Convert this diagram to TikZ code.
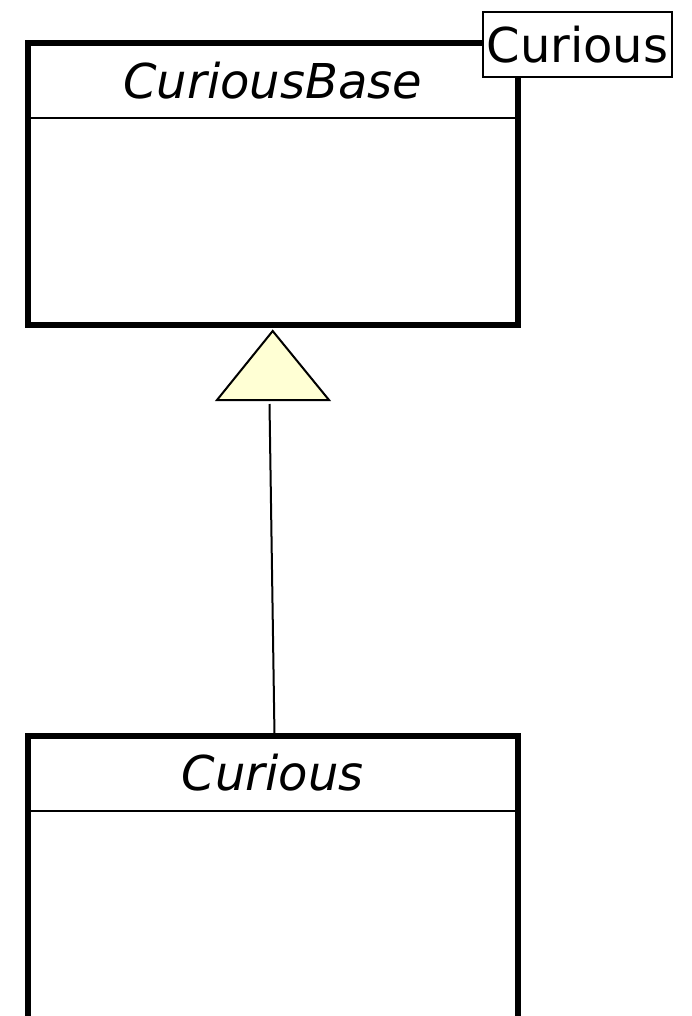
\documentclass[tikz,border=0pt]{standalone}
\usepackage{fontspec}
\setmainfont{DejaVu Sans}
\begin{document}
\begin{tikzpicture}[x=1pt,y=-1pt,
  classbox/.style={draw=black, line width=6pt, rectangle, fill=white, inner sep=0pt, outer sep=0pt},
  sepline/.style={draw=black, line width=2pt},
  titletext/.style={inner sep=0pt, font=\fontsize{48}{58}\selectfont\itshape},
  labelbox/.style={draw=black, line width=2pt, fill=white, inner sep=0pt, minimum width=189pt, minimum height=65pt, font=\fontsize{48}{58}\selectfont},
  genarrow/.style={draw=black, line width=2pt, fill={rgb,255:red,255;green,255;blue,212}, line join=miter},
  connector/.style={draw=black, line width=2pt}
]
\useasboundingbox (0,0) rectangle (692,1016);
\clip (0,0) rectangle (692,1016);
% base class
\node[classbox, minimum width=490.5pt, minimum height=282pt] (base) at (272.75,184) {};
\draw[sepline] (base.west |- 0,118) coordinate (bsl) -- (base.east |- 0,118) coordinate (bsr);
\node[titletext] (basetitle) at (272.75,80.5) {CuriousBase};
% derived class (continues past the bottom edge)
\node[classbox, minimum width=490.5pt, minimum height=400pt] (derived) at (272.75,936) {};
\draw[sepline] (derived.west |- 0,810.5) coordinate (dsl) -- (derived.east |- 0,810.5) coordinate (dsr);
\node[titletext] (derivedtitle) at (272.75,773) {Curious};
% generalisation arrow
\coordinate (tip) at (272.7,331);
\coordinate (tbl) at (217,400);
\coordinate (tbr) at (329,400);
\path[genarrow] (tip) -- (tbl) -- (tbr) -- cycle;
\coordinate (lstart) at (269.5,404);
\coordinate (lend) at (274.5,736);
\draw[connector] (lstart) -- (lend);
% template label
\node[labelbox] (lbl) at (577.5,44.5) {Curious};
\end{tikzpicture}
\end{document}
